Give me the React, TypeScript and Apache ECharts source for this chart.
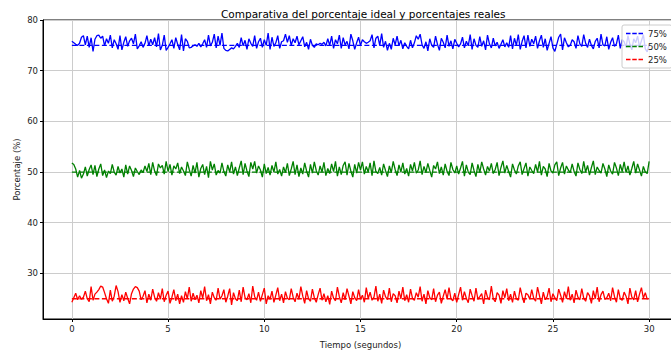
import React, { useEffect, useRef } from "react";
import * as echarts from "echarts";

const STEP = 0.1;
const xTicks = [0, 5, 10, 15, 20, 25, 30];
const yTicks = [30, 40, 50, 60, 70, 80];
const idealLabels = ["75%", "50%", "25%"];
const idealValues = [75, 50, 25];
const colors = ["#0000ff", "#008000", "#ff0000"];

const blueReal = [
  75.8, 75.5, 75.2, 75.0, 75.4, 76.6, 76.9, 75.1, 76.8, 74.6, 76.5, 73.8, 76.2, 76.9, 77.0, 76.4, 76.8, 74.9, 76.3, 75.4,
  77.0, 74.5, 76.1, 75.3, 74.2, 76.9, 74.1, 75.6, 76.7, 74.8, 75.9, 76.4, 75.3, 77.2, 74.3, 74.9, 75.7, 74.6, 75.4, 76.9,
  74.9, 76.2, 75.1, 76.5, 74.7, 77.3, 74.1, 75.0, 77.0, 74.0, 74.6, 75.3, 76.1, 74.4, 76.5, 75.2, 74.1, 77.1, 73.9, 76.3,
  75.8, 74.5, 74.6, 74.9, 75.1, 74.8, 75.4, 74.7, 75.3, 76.1, 74.6, 77.0, 74.9, 75.6, 77.2, 74.5, 76.8, 75.0, 77.4, 74.4,
  74.0, 73.9, 74.2, 74.5, 74.3, 74.8, 75.4, 74.6, 76.5, 74.9, 76.0, 74.2, 76.3, 75.4, 74.8, 76.9, 74.4, 75.7, 76.4, 74.6,
  76.1, 75.0, 77.4, 74.2, 76.6, 74.8, 75.5, 76.9, 74.4, 75.7, 75.9, 77.2, 75.6, 76.9, 75.0, 76.3, 75.5, 76.8, 75.1, 75.9,
  76.7, 74.7, 75.6, 74.2, 76.2, 75.0, 74.6, 75.3, 75.1, 75.4, 75.2, 75.6, 74.9, 76.3, 75.0, 76.8, 74.4, 76.1, 75.3, 77.0,
  74.4, 76.5, 75.1, 75.8, 74.3, 77.2, 75.9, 74.2, 75.5, 76.6, 75.0, 76.1, 75.7, 75.4, 75.6, 75.9, 77.1, 74.5, 76.4, 76.8,
  75.0, 77.3, 74.6, 75.8, 74.0, 75.4, 74.2, 76.4, 75.1, 76.8, 74.9, 76.0, 74.3, 75.5, 74.8, 74.3, 76.0, 74.5, 75.5, 76.9,
  76.2, 77.2, 75.1, 74.4, 75.7, 73.9, 76.3, 75.0, 74.6, 76.8, 75.2, 74.0, 76.4, 75.6, 74.5, 77.0, 74.8, 75.9, 74.3, 76.2,
  75.4, 74.7, 75.3, 76.6, 74.5, 75.8, 74.9, 77.1, 74.2, 76.3, 75.0, 74.6, 76.7, 74.8, 75.9, 74.1, 77.0, 75.3, 74.5, 76.4,
  74.9, 75.6, 74.4, 75.2, 76.1, 74.7, 75.5, 74.6, 76.9, 74.3, 76.4, 75.0, 77.1, 74.2, 75.8, 76.9, 74.5, 77.0, 74.8, 76.2,
  75.3, 76.8, 74.4, 75.9, 77.0, 74.6, 76.3, 74.0, 75.4, 76.7, 74.5, 73.8, 75.2, 76.6, 77.2, 74.1, 76.5, 75.5, 74.7, 75.0,
  76.1, 75.7, 74.4, 76.9, 75.3, 74.8, 77.1, 75.4, 74.6, 76.2, 75.0, 74.3, 75.8, 76.4, 74.5, 77.2, 75.1, 74.9, 76.7, 74.2,
  75.6, 76.5, 74.8, 75.3, 77.0, 74.4, 76.1, 75.7, 74.6, 76.9, 75.2, 74.1, 76.3, 75.5, 76.8, 74.7, 75.9, 77.1, 74.3, 73.7,
  75.2,
];

const greenReal = [
  51.8, 51.5, 50.6, 49.0, 50.3, 48.8, 49.6, 51.0, 49.2, 50.5, 51.4, 49.5, 51.3, 49.1, 50.6, 51.6, 49.3, 50.4, 48.9, 50.2,
  49.7, 51.5, 50.0, 49.4, 51.1, 49.8, 50.6, 49.0, 51.4, 49.6, 51.2, 50.3, 49.1, 50.8, 50.1, 49.5, 50.4, 49.9, 51.2, 50.1,
  51.7, 49.5, 51.9, 50.2, 49.3, 51.6, 50.8, 51.3, 49.6, 52.1, 50.1, 51.5, 49.4, 51.2, 50.6, 51.8, 49.7, 51.0, 50.2, 49.3,
  52.0, 50.5, 49.2, 51.3, 49.8, 51.9, 49.0, 50.7, 51.5, 49.5, 51.1, 48.9, 52.1, 50.4, 51.6, 49.4, 50.3, 49.8, 51.8, 50.1,
  49.2, 51.4, 50.0, 52.0, 49.6, 51.0, 49.3, 50.8, 52.2, 49.5, 51.7, 50.2, 49.1, 51.9, 50.6, 52.1, 49.8, 51.2, 50.4, 49.0,
  51.6, 49.7, 50.9, 49.4, 51.3, 50.0, 52.0, 49.6, 50.5, 49.2, 51.0, 49.9, 51.7, 49.3, 50.6, 52.1, 49.5, 51.4, 49.1, 50.8,
  49.6, 51.8, 50.2, 49.0, 51.5, 49.8, 52.0, 50.3, 49.4, 51.2, 50.0, 51.9, 49.3, 50.7, 49.7, 51.6, 50.1, 52.1, 49.2, 51.0,
  49.5, 51.3, 52.0, 49.4, 51.7, 50.2, 49.0, 51.5, 49.8, 51.9, 50.4, 52.0, 49.6, 51.1, 50.0, 51.8, 49.3, 52.2, 50.1, 49.7,
  50.9, 49.4, 51.6, 50.3, 49.1, 51.2, 49.9, 52.1, 50.5, 49.3, 51.4, 50.0, 51.8, 49.6, 50.7, 49.2, 51.5, 50.2, 51.9, 49.8,
  50.4, 52.2, 49.5, 51.1, 49.9, 51.7, 50.3, 49.0, 51.3, 50.6, 52.0, 49.7, 51.0, 49.4, 51.6, 50.1, 49.3, 51.9, 50.5, 49.8,
  51.2, 49.6, 50.8, 52.1, 49.2, 51.4, 50.0, 49.5, 51.8, 50.3, 49.1, 51.5, 49.9, 52.0, 50.6, 49.4, 51.1, 50.2, 51.7, 49.7,
  50.5, 51.9, 49.3, 50.9, 52.2, 49.8, 51.3, 50.1, 49.0, 51.6, 50.4, 49.6, 51.2, 52.0, 49.5, 50.7, 51.8, 49.2, 51.0, 50.3,
  49.7, 51.5, 50.0, 52.1, 49.4, 51.1, 50.6, 49.1, 51.7, 50.2, 49.8, 51.4, 52.0, 49.3, 50.8, 51.9, 49.6, 51.2, 50.4, 49.9,
  51.6, 50.1, 49.2, 51.8, 50.5, 49.7, 52.1, 50.0, 51.3, 49.4, 50.9, 52.2, 49.5, 51.0, 50.3, 49.8, 51.7, 50.6, 49.1, 51.4,
  50.2, 49.6, 51.9, 50.8, 49.3, 51.5, 50.1, 52.0, 49.9, 51.2, 49.4, 50.7, 52.1, 49.8, 51.6, 50.4, 49.2, 51.1, 50.0, 49.7,
  52.1,
];

const redReal = [
  24.3, 25.2, 26.1, 24.8, 25.6, 24.9, 25.3, 26.5, 25.0, 24.4, 27.4, 24.7, 25.9, 26.3, 26.8, 27.5, 27.3, 26.2, 25.0, 24.1,
  26.7, 24.5, 25.5, 27.6, 26.4, 24.3, 25.8, 24.6, 26.3, 25.1, 24.0, 26.0, 26.9, 27.4, 27.2, 26.5, 24.8, 25.5, 26.6, 24.2,
  25.9, 24.7, 26.9, 25.3, 24.5, 26.2, 24.9, 27.0, 24.4, 25.7, 26.5, 24.1, 25.3, 26.8, 24.6, 25.9, 24.0, 25.6, 24.3, 26.4,
  25.0, 27.3, 24.5, 26.1, 24.8, 25.7, 24.2, 26.6, 25.1, 27.4, 24.6, 25.8, 24.0, 26.3, 25.2, 24.7, 27.1, 24.9, 25.6, 26.8,
  24.3, 25.5, 27.0, 23.8, 26.2, 25.0, 24.6, 26.7, 24.4, 27.3, 25.2, 24.8, 26.0, 24.2, 27.5, 25.4, 24.7, 26.3, 24.5, 25.8,
  27.1, 24.0, 25.6, 24.9, 26.5, 24.3, 25.7, 27.2, 24.6, 25.9, 24.2, 26.4, 25.1, 24.8, 27.0, 25.3, 24.4, 26.1, 24.9, 27.4,
  25.5, 24.1, 26.6, 25.0, 24.5, 26.9, 25.2, 24.3, 25.8, 27.1, 24.7, 26.0, 24.4, 25.6, 23.9, 26.5, 25.1, 24.6, 27.3, 25.4,
  24.2, 26.2, 24.8, 27.0, 25.5, 24.0, 26.4, 25.2, 24.6, 26.8, 24.9, 25.7, 24.3, 27.2, 25.0, 26.3, 24.7, 25.3, 27.5, 24.5,
  25.9, 24.1, 26.7, 25.4, 24.8, 27.1, 24.4, 26.0, 25.6, 24.2, 26.5, 25.0, 27.3, 24.6, 25.8, 24.3, 26.9, 25.1, 24.7, 26.2,
  25.3, 27.4, 24.5, 25.9, 24.0, 26.6, 25.2, 24.8, 27.0, 24.4, 25.7, 26.3, 24.1, 25.5, 26.8, 24.9, 27.2, 25.0, 24.6, 26.1,
  24.3, 25.8, 27.3, 24.7, 26.4, 25.1, 24.2, 26.9, 25.6, 24.5, 27.1, 24.9, 25.4, 26.0, 24.0, 26.7, 25.3, 24.8, 27.5, 25.0,
  24.4, 26.2, 25.7, 24.1, 26.6, 25.2, 27.0, 24.6, 25.9, 24.3, 26.5, 25.0, 24.7, 27.2, 25.5, 24.2, 26.1, 25.8, 24.9, 26.8,
  25.1, 24.5, 27.3, 25.6, 24.0, 26.3, 24.8, 25.4, 27.1, 24.4, 26.0, 25.2, 24.6, 26.9, 25.7, 24.3, 26.4, 25.0, 27.4, 24.7,
  25.9, 24.2, 26.7, 25.3, 24.8, 27.0, 25.1, 24.5, 26.2, 25.6, 24.1, 26.6, 25.0, 27.3, 24.4, 25.8, 26.5, 24.9, 25.2, 26.1,
  24.6, 27.2, 25.4, 24.3, 26.8, 25.0, 24.7, 26.3, 25.5, 24.0, 27.1, 25.3, 24.8, 26.6, 24.4, 25.9, 27.2, 25.1, 26.2, 24.9,
  25.0,
];

const realSeries = [blueReal, greenReal, redReal];
const FONT = "DejaVu Sans";
const DASH_ICON = "path://M0,0h4.5v1.5h-4.5z M6.25,0h4.5v1.5h-4.5z M12.5,0h4.5v1.5h-4.5z";

export default function App() {
  const ref = useRef<HTMLDivElement>(null);
  useEffect(() => {
    if (!ref.current) return;
    const chart = echarts.init(ref.current, null, { renderer: "svg" });
    const series: any[] = [];
    realSeries.forEach((vals, k) => {
      series.push({
        name: "real" + k,
        type: "line",
        data: vals.map((v, i) => [+(i * STEP).toFixed(2), v]),
        showSymbol: false,
        symbol: "none",
        lineStyle: { color: colors[k], width: 1.3 },
        itemStyle: { color: colors[k] },
        z: 2,
      });
      series.push({
        name: idealLabels[k],
        type: "line",
        data: [
          [xTicks[0], idealValues[k]],
          [xTicks[xTicks.length - 1], idealValues[k]],
        ],
        showSymbol: false,
        symbol: "none",
        lineStyle: { color: colors[k], width: 1.3, type: [5, 2.5] },
        itemStyle: { color: colors[k] },
        z: 3,
      });
    });
    chart.setOption({
      animation: false,
      textStyle: { fontFamily: FONT },
      title: {
        text: "Comparativa del porcentaje ideal y porcentajes reales",
        left: 216,
        top: 3,
        textStyle: { fontFamily: FONT, fontSize: 10.5, fontWeight: "normal", color: "#000" },
      },
      legend: {
        data: idealLabels,
        left: 622,
        top: 25,
        orient: "vertical",
        icon: DASH_ICON,
        itemWidth: 17,
        itemHeight: 1.5,
        itemGap: 4,
        padding: [4, 5, 4, 4],
        backgroundColor: "rgba(255,255,255,0.8)",
        borderColor: "#cccccc",
        borderWidth: 1,
        borderRadius: 2,
        textStyle: { fontFamily: FONT, fontSize: 8.5, color: "#222" },
      },
      grid: {
        left: 43,
        top: 20,
        width: 635,
        height: 302,
        show: true,
        borderColor: "#000",
        borderWidth: 1,
        backgroundColor: "transparent",
      },
      xAxis: {
        type: "value",
        min: -1.5,
        max: 31.5,
        name: "Tiempo (segundos)",
        nameLocation: "middle",
        nameGap: 21,
        nameTextStyle: { fontFamily: FONT, fontSize: 8.5, color: "#222" },
        axisLine: { show: true, onZero: false, lineStyle: { color: "#000", width: 1 } },
        axisTick: { show: true, length: 3, lineStyle: { color: "#000" }, customValues: xTicks },
        axisLabel: { fontFamily: FONT, fontSize: 8.5, color: "#222", margin: 5, customValues: xTicks },
        splitLine: { show: true, lineStyle: { color: "#cccccc", width: 1 } },
      },
      yAxis: {
        type: "value",
        min: 21,
        max: 80,
        name: "Porcentaje (%)",
        nameLocation: "middle",
        nameGap: 22,
        nameMoveOverlap: false,
        nameTextStyle: { fontFamily: FONT, fontSize: 8.5, color: "#222" },
        axisLine: { show: true, onZero: false, lineStyle: { color: "#000", width: 1 } },
        axisTick: { show: true, length: 3, lineStyle: { color: "#000" }, customValues: yTicks },
        axisLabel: { fontFamily: FONT, fontSize: 8.5, color: "#222", margin: 5, customValues: yTicks },
        splitLine: { show: true, lineStyle: { color: "#cccccc", width: 1 } },
      },
      series,
    });
    return () => chart.dispose();
  }, []);
  return (
    <div
      style={{
        position: "absolute",
        left: 0,
        top: 0,
        width: 671,
        height: 354,
        overflow: "hidden",
        background: "#fff",
      }}
    >
      <div ref={ref} style={{ width: 720, height: 354 }} />
    </div>
  );
}
